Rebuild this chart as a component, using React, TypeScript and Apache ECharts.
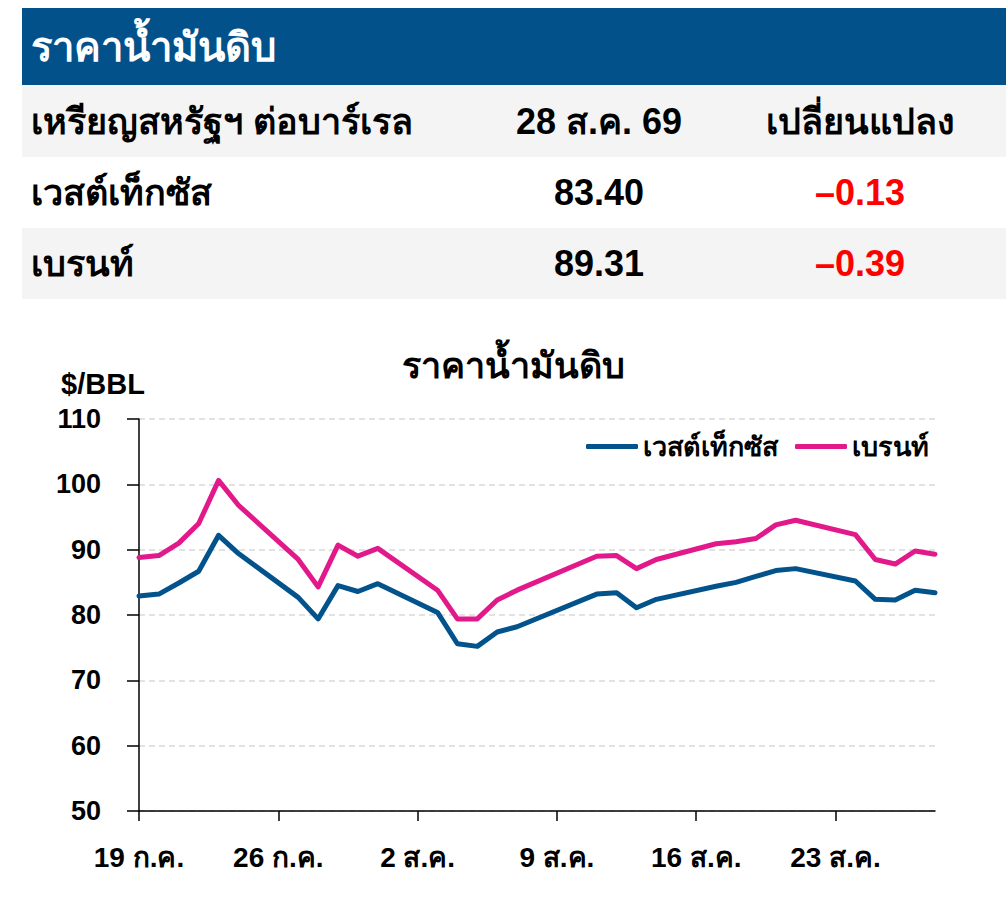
import React, { useEffect, useRef } from "react";
import * as echarts from "echarts";

const categories = [
  "19 ก.ค.", "20 ก.ค.", "21 ก.ค.", "22 ก.ค.", "23 ก.ค.", "24 ก.ค.", "25 ก.ค.", "26 ก.ค.", "27 ก.ค.", "28 ก.ค.", "29 ก.ค.", "30 ก.ค.", "31 ก.ค.",
  "1 ส.ค.", "2 ส.ค.", "3 ส.ค.", "4 ส.ค.", "5 ส.ค.", "6 ส.ค.", "7 ส.ค.", "8 ส.ค.", "9 ส.ค.", "10 ส.ค.", "11 ส.ค.", "12 ส.ค.", "13 ส.ค.", "14 ส.ค.",
  "15 ส.ค.", "16 ส.ค.", "17 ส.ค.", "18 ส.ค.", "19 ส.ค.", "20 ส.ค.", "21 ส.ค.", "22 ส.ค.", "23 ส.ค.", "24 ส.ค.", "25 ส.ค.", "26 ส.ค.", "27 ส.ค.", "28 ส.ค.",
];

const wti = [
  82.9, 83.2, 84.9, 86.7, 92.2, 89.4, null, null, 82.7, 79.4, 84.5, 83.6, 84.8,
  null, null, 80.4, 75.6, 75.2, 77.4, 78.2, null, null, null, 83.2, 83.4, 81.1, 82.4,
  null, null, 84.4, 85.0, 85.9, 86.8, 87.1, null, null, 85.2, 82.4, 82.3, 83.8, 83.4,
];

const brent = [
  88.8, 89.1, 91.0, 94.0, 100.6, 96.8, null, null, 88.5, 84.3, 90.7, 89.0, 90.2,
  null, null, 83.8, 79.4, 79.4, 82.3, 83.8, null, null, null, 89.0, 89.1, 87.1, 88.5,
  null, null, 90.9, 91.2, 91.7, 93.8, 94.5, null, null, 92.3, 88.5, 87.8, 89.8, 89.31,
];

const tableTitle = "ราคาน้ำมันดิบ";
const tableHeader = ["เหรียญสหรัฐฯ ต่อบาร์เรล", "28 ส.ค. 69", "เปลี่ยนแปลง"];
const oilNames = ["เวสต์เท็กซัส", "เบรนท์"];
const latestPrices = ["83.40", "89.31"];
const priceChanges = ["–0.13", "–0.39"];
const chartTitle = "ราคาน้ำมันดิบ";
const unitLabel = "$/BBL";

const FONT = "'Liberation Sans', Arial, Helvetica, sans-serif";
const BLUE = "#02528c";
const PINK = "#e2198b";

export default function App() {
  const ref = useRef<HTMLDivElement>(null);
  useEffect(() => {
    if (!ref.current) return;
    const chart = echarts.init(ref.current, null, { renderer: "svg" });
    const rowY = [121, 192, 263];
    const txt = (text: string, x: number, y: number, size: number, align: string, color = "#000") => ({
      type: "text",
      x,
      y,
      silent: true,
      style: {
        text,
        fill: color,
        fontSize: size,
        fontWeight: "bold",
        fontFamily: FONT,
        align,
        verticalAlign: "middle",
      },
    });
    const graphic: any[] = [
      { type: "rect", shape: { x: 22, y: 8, width: 984, height: 77 }, style: { fill: "#03518a" }, silent: true },
      { type: "rect", shape: { x: 22, y: 85, width: 984, height: 72 }, style: { fill: "#f4f4f4" }, silent: true },
      { type: "rect", shape: { x: 22, y: 228, width: 984, height: 71 }, style: { fill: "#f4f4f4" }, silent: true },
      txt(tableTitle, 31, 47, 40, "left", "#fff"),
      txt(tableHeader[0], 31, rowY[0], 36, "left"),
      txt(tableHeader[1], 599, rowY[0], 36, "center"),
      txt(tableHeader[2], 860, rowY[0], 36, "center"),
    ];
    oilNames.forEach((n, i) => {
      graphic.push(txt(n, 31, rowY[i + 1], 36, "left"));
      graphic.push(txt(latestPrices[i], 599, rowY[i + 1], 36, "center"));
      graphic.push(txt(priceChanges[i], 860, rowY[i + 1], 36, "center", "#ff0000"));
    });
    graphic.push(txt(chartTitle, 513, 365, 36, "center"));
    graphic.push(txt(unitLabel, 103, 384, 29, "center"));

    chart.setOption({
      animation: false,
      backgroundColor: "#fff",
      textStyle: { fontFamily: FONT },
      graphic,
      legend: {
        data: oilNames,
        left: 581,
        top: 428,
        icon: "roundRect",
        itemWidth: 52,
        itemHeight: 5,
        itemGap: 17,
        textStyle: { fontSize: 27, fontWeight: "bold", color: "#000", fontFamily: FONT },
      },
      grid: { left: 139, right: 71, top: 419, bottom: 111, containLabel: false },
      xAxis: {
        type: "category",
        data: categories,
        boundaryGap: false,
        axisLine: { show: true, lineStyle: { color: "#000", width: 1.5 } },
        axisTick: { show: true, interval: 6, length: 10, lineStyle: { color: "#000", width: 1.5 } },
        axisLabel: { interval: 6, margin: 32, fontSize: 28, fontWeight: "bold", color: "#000", fontFamily: FONT },
        splitLine: { show: false },
      },
      yAxis: {
        type: "value",
        min: 50,
        max: 110,
        interval: 10,
        axisLine: { show: true, lineStyle: { color: "#000", width: 1.5 } },
        axisTick: { show: true, length: 12, lineStyle: { color: "#000", width: 1.5 } },
        axisLabel: { margin: 38, fontSize: 27, fontWeight: "bold", color: "#000", fontFamily: FONT },
        splitLine: { show: true, lineStyle: { color: "#d9d9d9", width: 1.5, type: [6, 4] } },
      },
      series: [
        {
          name: oilNames[0],
          type: "line",
          data: wti,
          connectNulls: true,
          symbol: "none",
          color: BLUE,
          lineStyle: { width: 5, color: BLUE, cap: "round", join: "round" },
        },
        {
          name: oilNames[1],
          type: "line",
          data: brent,
          connectNulls: true,
          symbol: "none",
          color: PINK,
          lineStyle: { width: 5, color: PINK, cap: "round", join: "round" },
        },
      ],
    });
    return () => chart.dispose();
  }, []);
  return <div ref={ref} style={{ position: "absolute", left: 0, top: 0, width: 1006, height: 922 }} />;
}
